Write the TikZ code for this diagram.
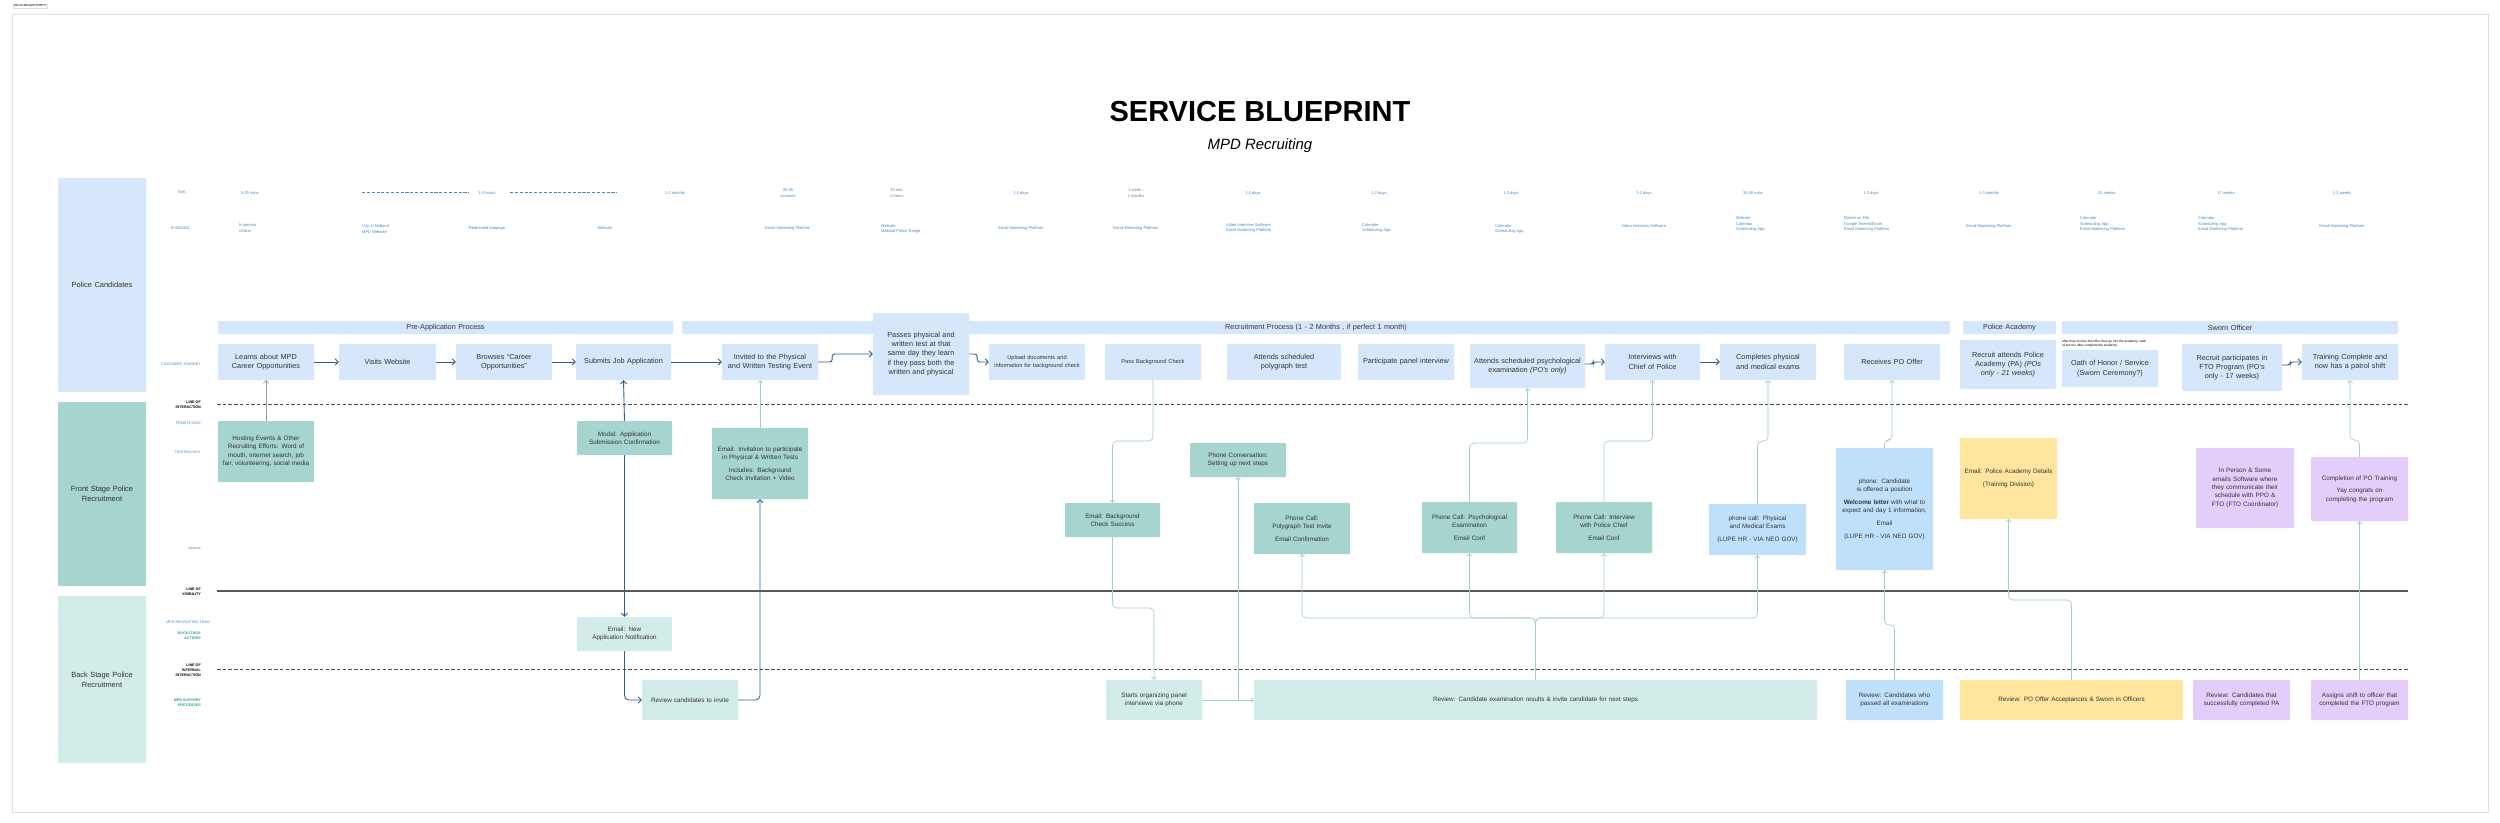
\documentclass[tikz,border=0pt]{standalone}
\usepackage{fontspec}
\setmainfont{Liberation Sans}
\usetikzlibrary{arrows.meta}
\definecolor{jb}{HTML}{D6E7FB}
\definecolor{fsc}{HTML}{A6D4CE}
\definecolor{bsc}{HTML}{D2ECEA}
\definecolor{blc}{HTML}{BFE0FB}
\definecolor{ylc}{HTML}{FFE59E}
\definecolor{puc}{HTML}{E3CDFA}
\definecolor{txt}{HTML}{333333}
\definecolor{lbl}{HTML}{4A86C5}
\definecolor{tealt}{HTML}{2AA198}
\definecolor{tl}{HTML}{9ECFCB}
\definecolor{db}{HTML}{2F5F8F}
\newcommand\nohy{\hyphenpenalty=10000\exhyphenpenalty=10000}
\newcommand\bx[7]{\pgfmathsetmacro\bw{(#4-#2)*0.4}\pgfmathsetmacro\bh{(#5-#3)*0.4}\pgfmathsetmacro\tw{(#4-#2-6)*0.4}%
\node[#6,minimum width=\bw mm,minimum height=\bh mm,text width=\tw mm,inner sep=0pt] (#1) at ({(#2+#4)/2},{(#3+#5)/2}) {#7};}
\begin{document}
\begin{tikzpicture}[x=0.4mm,y=-0.4mm,
 box/.style={rounded corners=1pt,align=center,text=txt,font=\fontsize{8.3}{10.5}\selectfont\nohy},
 jbx/.style={box,fill=jb},
 sm/.style={font=\fontsize{7.2}{9.5}\selectfont\nohy},
 fsx/.style={box,fill=fsc,sm},
 bsx/.style={box,fill=bsc,sm},
 blx/.style={box,fill=blc,sm},
 ylx/.style={box,fill=ylc,sm},
 pux/.style={box,fill=puc,sm},
 lane/.style={box,font=\fontsize{8.5}{11}\selectfont\nohy},
 tiny/.style={text=lbl,font=\fontsize{4.6}{6.6}\selectfont,inner sep=0pt,align=left},
 rl/.style={font=\bfseries\fontsize{4.2}{6}\selectfont,inner sep=0pt,align=right,anchor=east},
 rs/.style={rl,font=\fontsize{4.2}{6}\selectfont},
 tc/.style={draw=tl,line width=0.7pt,rounded corners=5pt,-{Straight Barb[length=3pt,width=6pt]}},
 dbc/.style={draw=db,line width=1pt,rounded corners=5pt,-{Straight Barb[length=3.5pt,width=7pt]}}]
\useasboundingbox (0,0) rectangle (2500,823);
\fill[white] (0,0) rectangle (2500,823);
\draw[black!12,line width=0.6pt] (12,14) rectangle (2488,812);
\node[draw=black!15,font=\fontsize{3.2}{3.5}\selectfont,inner sep=1pt,anchor=west] (ttl0) at (13,6) {Service Blueprint (COPY)};
\node[font=\bfseries\fontsize{33}{36}\selectfont] (title) at (1260,112) {SERVICE BLUEPRINT};
\node[font=\itshape\fontsize{17}{20}\selectfont] (sub) at (1260,146) {MPD Recruiting};
% lanes
\bx{lpc}{58}{178}{146}{392}{lane,fill=jb}{Police Candidates}
\bx{lfs}{58}{402}{146}{586}{lane,fill=fsc}{Front Stage Police Recruitment}
\bx{lbs}{58}{596}{146}{763}{lane,fill=bsc}{Back Stage Police Recruitment}
% row labels
\node[rs,text=lbl] (rT) at (186,192) {TIME};
\node[rs,text=lbl] (rE) at (190,228) {EVIDENCE};
\node[rs,text=lbl] (rC) at (201,364) {CUSTOMER JOURNEY};
\node[rl] (rL1) at (201,405) {LINE OF\\INTERACTION};
\node[rs,text=lbl] (rF) at (201,423) {FRONTSTAGE};
\node[rs,text=lbl] (rTe) at (201,452) {TECHNOLOGY};
\node[rs,text=lbl] (rA) at (201,548) {Actions};
\node[rl] (rL2) at (201,592) {LINE OF\\VISIBILITY};
\node[rs,text=lbl] (rM) at (210,622) {MPD RECRUITING TEAM};
\node[rl,text=tealt] (rB) at (201,636) {BACKSTAGE\\ACTIONS};
\node[rl] (rL3) at (201,670) {LINE OF\\INTERNAL\\INTERACTION};
\node[rl,text=tealt] (rS) at (201,703) {MPD SUPPORT\\PROCESSES};
% lines
\coordinate (l1a) at (217,404); \coordinate (l1b) at (2408,404);
\coordinate (l2a) at (217,591); \coordinate (l2b) at (2408,591);
\coordinate (l3a) at (217,669); \coordinate (l3b) at (2408,669);
\draw[black!70,line width=1.1pt,dash pattern=on 4pt off 2.5pt] (l1a) -- (l1b);
\draw[black!65,line width=1.5pt] (l2a) -- (l2b);
\draw[black!70,line width=1.1pt,dash pattern=on 4pt off 2.5pt] (l3a) -- (l3b);
% time row
\foreach \x/\t/\n in {250/5-25 mins/t1,487/1-2 hours/t2,675/1-2 months/t3,788/{30-55\\seconds}/t4,897/{30 min-\\2 hours}/t5,1021/1-2 days/t6,1136/{1 week -\\2 months}/t7,1253/1-2 days/t8,1379/1-2 days/t9,1511/1-2 days/t10,1644/1-2 days/t11,1753/30-40 mins/t12,1871/1-2 days/t13,1989/1-3 months/t14,2107/21 weeks/t15,2226/17 weeks/t16,2342/1-3 weeks/t17}
 \node[tiny,align=center] (\n) at (\x,193) {\t};
\coordinate (d1a) at (362,192); \coordinate (d1b) at (469,192);
\coordinate (d2a) at (510,192); \coordinate (d2b) at (617,192);
\draw[lbl,line width=0.9pt,dash pattern=on 3.5pt off 2pt] (d1a) -- (d1b) (d2a) -- (d2b);
% evidence
\node[tiny,anchor=west] (e1) at (239,228) {In person\\Online};
\node[tiny,anchor=west] (e2) at (362,229) {City of Midland\\MPD Website};
\node[tiny] (e3) at (487,228) {Redirected subpage};
\node[tiny] (e4) at (605,228) {Website};
\node[tiny] (e5) at (788,228) {Email Marketing Platform};
\node[tiny,anchor=west] (e6) at (881,229) {Website\\Midland Police Range};
\node[tiny] (e7) at (1021,228) {Email Marketing Platform};
\node[tiny] (e8) at (1136,228) {Email Marketing Platform};
\node[tiny,anchor=west] (e9) at (1226,228) {Video Interview Software\\Email Marketing Platform};
\node[tiny,anchor=west] (e10) at (1362,228) {Calendar\\Scheduling App};
\node[tiny,anchor=west] (e11) at (1495,229) {Calendar\\Scheduling App};
\node[tiny] (e12) at (1644,226) {Video Interview Software};
\node[tiny,anchor=west] (e13) at (1736,224) {Website\\Calendar\\Scheduling App};
\node[tiny,anchor=west] (e14) at (1844,224) {Roster on File\\Google Sheets/Excel\\Email Marketing Platform};
\node[tiny] (e15) at (1989,226) {Email Marketing Platform};
\node[tiny,anchor=west] (e16) at (2080,224) {Calendar\\Scheduling App\\Email Marketing Platform};
\node[tiny,anchor=west] (e17) at (2198,224) {Calendar\\Scheduling App\\Email Marketing Platform};
\node[tiny] (e18) at (2342,226) {Email Marketing Platform};
% phase bars
\bx{pb1}{218}{321}{673}{334}{jbx}{Pre-Application Process}
\bx{pb2}{682}{321}{1950}{334}{jbx}{Recruitment Process (1 - 2 Months , if perfect 1 month)}
\bx{pb3}{1963}{321}{2056}{334}{jbx}{Police Academy}
\bx{pb4}{2062}{321}{2398}{334}{jbx}{Sworn Officer}
% journey
\bx{lrn}{218}{344}{314}{380}{jbx}{Learns about MPD Career Opportunities}
\bx{vis}{339}{344}{436}{380}{jbx}{Visits Website}
\bx{brw}{456}{344}{552}{380}{jbx}{Browses ``Career Opportunities''}
\bx{sbm}{576}{344}{671}{380}{jbx}{Submits Job Application}
\bx{inv}{722}{344}{818}{380}{jbx}{Invited to the Physical and Written Testing Event}
\bx{pas}{873}{313}{969}{395}{jbx}{Passes physical and written test at that same day they learn if they pass both the written and physical}
\bx{upl}{989}{344}{1085}{380}{jbx,font=\fontsize{6.5}{9}\selectfont\nohy}{Upload documents and information for background check}
\bx{pbc}{1105}{344}{1201}{380}{jbx,font=\fontsize{6.5}{9}\selectfont\nohy}{Pass Background Check}
\bx{pol}{1227}{344}{1341}{380}{jbx}{Attends scheduled polygraph test}
\bx{pan}{1358}{344}{1454}{380}{jbx}{Participate panel interview}
\bx{psy}{1470}{344}{1585}{388}{jbx}{Attends scheduled psychological examination \textit{(PO's only)}}
\bx{int}{1605}{344}{1700}{380}{jbx}{Interviews with Chief of Police}
\bx{cmp}{1720}{344}{1816}{380}{jbx}{Completes physical and medical exams}
\bx{rpo}{1844}{344}{1940}{380}{jbx}{Receives PO Offer}
\bx{rpa}{1960}{340}{2056}{389}{jbx}{Recruit attends Police Academy (PA) \textit{(POs only - 21 weeks)}}
\bx{oat}{2062}{350}{2158}{387}{jbx}{Oath of Honor / Service (Sworn Ceremony?)}
\bx{fto}{2182}{344}{2282}{391}{jbx}{Recruit participates in FTO Program (PO's only - 17 weeks)}
\bx{trn}{2302}{344}{2398}{380}{jbx}{Training Complete and now has a patrol shift}
\node[font=\fontsize{3.7}{4.6}\selectfont,anchor=west,align=left,inner sep=0pt] (note) at (2062,344) {after they receive the offer, they go into the academy; oath\\of service after complete the academy};
% frontstage
\bx{hst}{218}{421}{314}{482}{fsx}{Hosting Events \& Other Recruiting Efforts: Word of mouth, internet search, job fair, volunteering, social media}
\bx{mod}{577}{421}{672}{455}{fsx}{Modal: Application Submission Confirmation}
\bx{einv}{712}{428}{808}{499}{fsx}{Email: Invitation to participate in Physical \& Written Tests\\[5pt]Includes: Background Check Invitation + Video}
\bx{ebg}{1065}{503}{1160}{537}{fsx}{Email: Background Check Success}
\bx{pcv}{1190}{443}{1286}{477}{fsx}{Phone Conversation: Setting up next steps}
\bx{ppi}{1254}{503}{1350}{554}{fsx}{Phone Call: Polygraph Test Invite\\[5pt]Email Confirmation}
\bx{psc}{1422}{502}{1517}{553}{fsx}{Phone Call: Psychological Examination\\[5pt]Email Conf}
\bx{chc}{1556}{502}{1652}{553}{fsx}{Phone Call: Interview with Police Chief\\[5pt]Email Conf}
\bx{phy}{1709}{504}{1806}{555}{blx}{phone call: Physical and Medical Exams\\[5pt](LUPE HR - VIA NEO GOV)}
\bx{ofr}{1836}{448}{1933}{570}{blx}{phone: Candidate is offered a position\\[5pt]\textbf{Welcome letter} with what to expect and day 1 information,\\[5pt]Email\\[5pt](LUPE HR - VIA NEO GOV)}
\bx{epa}{1960}{438}{2057}{519}{ylx}{Email: Police Academy Details\\[5pt](Training Division)}
\bx{ips}{2196}{448}{2294}{528}{pux}{In Person \& Some emails Software where they communicate their schedule with PPO \& FTO (FTO Coordinator)}
\bx{cpt}{2311}{457}{2408}{521}{pux}{Completion of PO Training\\[5pt]Yay congrats on completing the program}
% backstage
\bx{ena}{577}{617}{672}{651}{bsx}{Email: New Application Notification}
\bx{rci}{642}{680}{738}{720}{bsx}{Review candidates to invite}
\bx{sop}{1106}{680}{1202}{720}{bsx}{Starts organizing panel interviews via phone}
\bx{rex}{1254}{680}{1817}{720}{bsx}{Review: Candidate examination results \& invite candidate for next steps}
\bx{rcp}{1846}{680}{1943}{720}{blx}{Review: Candidates who passed all examinations}
\bx{rpoa}{1960}{680}{2183}{720}{ylx}{Review: PO Offer Acceptances \& Sworn in Officers}
\bx{rpac}{2193}{680}{2290}{720}{pux}{Review: Candidates that successfully completed PA}
\bx{asg}{2311}{680}{2408}{720}{pux}{Assigns shift to officer that completed the FTO program}
% helper heights
\coordinate (h441) at (0,441); \coordinate (h443) at (0,443); \coordinate (h608) at (0,608);
\coordinate (h618) at (0,618); \coordinate (h625) at (0,625); \coordinate (h600) at (0,600);
\coordinate (h440) at (0,440);
% journey arrows
\draw[dbc] (lrn.east) -- (vis.west);
\draw[dbc] (vis.east) -- (brw.west);
\draw[dbc] (brw.east) -- (sbm.west);
\draw[dbc] (sbm.east) -- (inv.west);
\draw[dbc,rounded corners=3pt] (inv.east) -- ++(14,0) |- (pas.west);
\draw[dbc,rounded corners=3pt] (pas.east) -- ++(8,0) |- (upl.west);
\draw[dbc,rounded corners=3pt] (psy.east |- int.west) ++(0,2) -- ++(8,0) |- (int.west);
\draw[dbc] (int.east) -- (cmp.west);
\draw[dbc,rounded corners=3pt] (fto.east |- trn.west) ++(0,3) -- ++(8,0) |- (trn.west);
% front/back blue
\draw[draw=black!40,line width=0.7pt,-{Straight Barb[length=3pt,width=6pt]}] (hst.north) -- (lrn.south);
\draw[dbc] (mod.north) -- (sbm.south);
\draw[dbc] (mod.south) -- (ena.north);
\draw[dbc] (ena.south) |- (rci.west);
\draw[dbc] (rci.east) -| (einv.south);
\draw[tc] (einv.north) -- (einv.north |- inv.south);
% teal connectors
\draw[tc] (pbc.south) -- (pbc.south |- h441) -- (ebg.north |- h441) -- (ebg.north);
\draw[tc] (ebg.south) -- (ebg.south |- h608) -- (sop.north |- h608) -- (sop.north);
\draw[tc,rounded corners=0pt] (sop.east) -- (rex.west);
\draw[tc] (pcv.south |- sop.east) -- (pcv.south);
\foreach \t in {ppi,psc,chc,phy}
 \draw[tc] (rex.north) -- (rex.north |- h618) -- (\t.south |- h618) -- (\t.south);
\draw[tc] (psc.north) -- (psc.north |- h443) -- (psy.south |- h443) -- (psy.south);
\draw[tc] (chc.north) -- (chc.north |- h441) -- (int.south |- h441) -- (int.south);
\draw[tc] (phy.north) -- (phy.north |- h441) -- (cmp.south |- h441) -- (cmp.south);
\draw[tc] (ofr.north) -- (ofr.north |- h440) -- (rpo.south |- h440) -- (rpo.south);
\draw[tc] (rcp.north) -- (rcp.north |- h625) -- (ofr.south |- h625) -- (ofr.south);
\draw[tc] (rpoa.north) -- (rpoa.north |- h600) -- (epa.south |- h600) -- (epa.south);
\draw[tc] (asg.north) -- (cpt.south);
\draw[tc] (cpt.north) -- (cpt.north |- h440) -- (trn.south |- h440) -- (trn.south);
\end{tikzpicture}
\end{document}
